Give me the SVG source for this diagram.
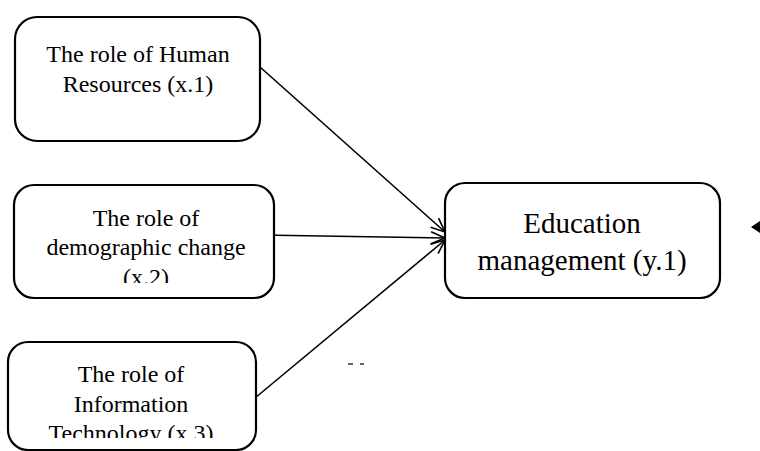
<svg xmlns="http://www.w3.org/2000/svg" width="760" height="451" viewBox="0 0 760 451">
<style>
.box{fill:#fff;stroke:#000;stroke-width:2.2}
.t{font-family:"Liberation Serif","Times New Roman",serif;font-size:24px;fill:#000;text-anchor:middle}
.tb{font-family:"Liberation Serif","Times New Roman",serif;font-size:29px;fill:#000;text-anchor:middle}
.c{stroke:#000;stroke-width:1.6;fill:none}
</style>
<defs>
<marker id="open" viewBox="0 0 16 14" refX="15" refY="7" markerWidth="16" markerHeight="14" markerUnits="userSpaceOnUse" orient="auto">
<path d="M1,1 L15,7 L1,13" fill="none" stroke="#000" stroke-width="1.6"/>
</marker>
<clipPath id="clip2"><rect x="14" y="185" width="262" height="98"/></clipPath>
<clipPath id="clip3"><rect x="8" y="342" width="250" height="96"/></clipPath>
</defs>
<g id="connectors">
<line class="c" x1="260" y1="67" x2="445" y2="232" marker-end="url(#open)"/>
<line class="c" x1="260" y1="235" x2="445" y2="238" marker-end="url(#open)"/>
<line class="c" x1="255" y1="398" x2="445" y2="240" marker-end="url(#open)"/>
<polygon points="751,227 760,221 760,233" fill="#000"/>
<line x1="348" y1="364" x2="353" y2="364" stroke="#000" stroke-width="1.2"/>
<line x1="360" y1="364" x2="364" y2="364" stroke="#000" stroke-width="1.2"/>
</g>
<g id="node-x1">
<rect class="box" x="15" y="17" width="245" height="124" rx="22"/>
<text class="t" x="138" y="62">The role of Human</text>
<text class="t" x="138" y="92">Resources (x.1)</text>
</g>
<g id="node-x2">
<rect class="box" x="14" y="185" width="260" height="113" rx="20"/>
<g clip-path="url(#clip2)">
<text class="t" x="146" y="226">The role of</text>
<text class="t" x="146" y="255">demographic change</text>
<text class="t" x="146" y="285">(x.2)</text>
</g>
</g>
<g id="node-x3">
<rect class="box" x="8" y="342" width="248" height="108" rx="20"/>
<g clip-path="url(#clip3)">
<text class="t" x="131" y="382">The role of</text>
<text class="t" x="131" y="412">Information</text>
<text class="t" x="131" y="441">Technology (x.3)</text>
</g>
</g>
<g id="node-y1">
<rect class="box" x="445" y="183" width="275" height="115" rx="20"/>
<text class="tb" x="582" y="233">Education</text>
<text class="tb" x="582" y="270">management (y.1)</text>
</g>
</svg>
